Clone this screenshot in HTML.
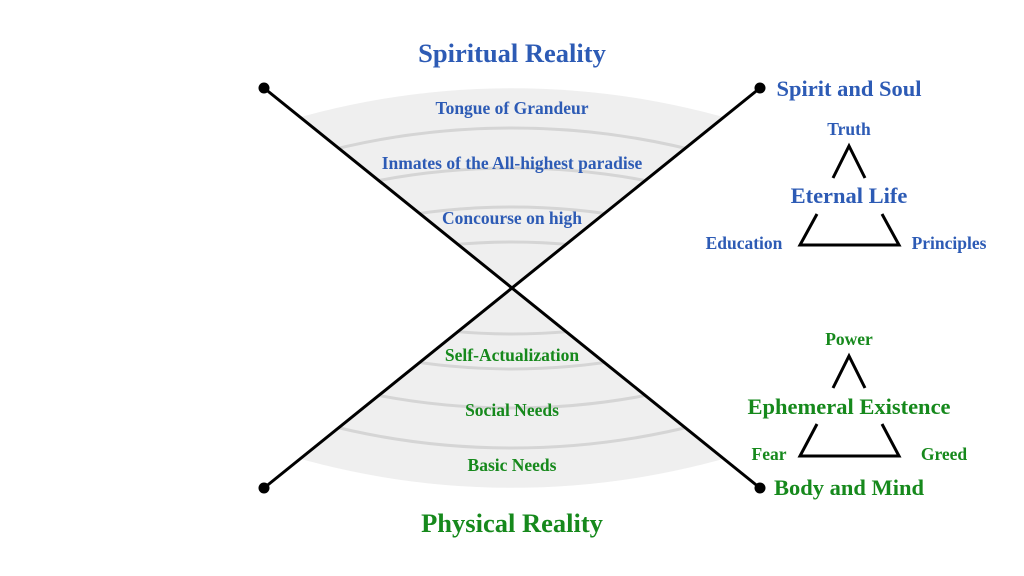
<!DOCTYPE html>
<html><head><style>
html,body{margin:0;padding:0;background:#fff;overflow:hidden;width:1024px;height:576px;}
svg{display:block;}
text{font-family:"Liberation Serif",serif;font-weight:bold;text-anchor:middle;}
.b{fill:#2d5bb5;}
.g{fill:#16891c;}
</style></head><body>
<svg width="1024" height="576" viewBox="0 0 1024 576" xmlns="http://www.w3.org/2000/svg" style="overflow:hidden">
<defs>
<clipPath id="ct"><polygon points="264,88 760,88 512,288"/></clipPath>
<clipPath id="cb"><polygon points="264,488 760,488 512,288"/></clipPath>
</defs>
<g clip-path="url(#ct)">
<path d="M250,133 A789,789 0 0 1 774,133 L512,300 Z" fill="#efefef"/>
<g fill="none" stroke="#d5d5d5" stroke-width="3">
<path d="M250,175.3 A749,749 0 0 1 774,175.3"/>
<path d="M250,218.2 A709,709 0 0 1 774,218.2"/>
<path d="M250,260.4 A670,670 0 0 1 774,260.4"/>
<path d="M250,298.6 A635,635 0 0 1 774,298.6"/>
</g>
</g>
<g clip-path="url(#cb)">
<path d="M250,443 A789,789 0 0 0 774,443 L512,276 Z" fill="#efefef"/>
<g fill="none" stroke="#d5d5d5" stroke-width="3">
<path d="M250,400.7 A749,749 0 0 0 774,400.7"/>
<path d="M250,357.8 A709,709 0 0 0 774,357.8"/>
<path d="M250,315.6 A670,670 0 0 0 774,315.6"/>
<path d="M250,277.4 A635,635 0 0 0 774,277.4"/>
</g>
</g>
<g stroke="#000" stroke-width="3">
<line x1="264" y1="88" x2="760" y2="488"/>
<line x1="760" y1="88" x2="264" y2="488"/>
</g>
<g fill="#000">
<circle cx="264" cy="88" r="5.5"/><circle cx="760" cy="88" r="5.5"/>
<circle cx="264" cy="488" r="5.5"/><circle cx="760" cy="488" r="5.5"/>
</g>
<g fill="none" stroke="#000" stroke-width="3">
<polyline points="833,178 849,146 865,178"/>
<polyline points="817,214 800,245 899,245 882,214"/>
<polyline points="833,388 849,356 865,388"/>
<polyline points="817,424 800,456 899,456 882,424"/>
</g>
<text class="b" x="512" y="62" font-size="26.5">Spiritual Reality</text>
<text class="g" x="512" y="532" font-size="26.5">Physical Reality</text>
<text class="b" x="512" y="114" font-size="17.5">Tongue of Grandeur</text>
<text class="b" x="512" y="169" font-size="17.5">Inmates of the All-highest paradise</text>
<text class="b" x="512" y="224" font-size="17.5">Concourse on high</text>
<text class="g" x="512" y="361" font-size="17.5">Self-Actualization</text>
<text class="g" x="512" y="416" font-size="17.5">Social Needs</text>
<text class="g" x="512" y="471" font-size="17.5">Basic Needs</text>
<text class="b" x="849" y="96" font-size="22.5">Spirit and Soul</text>
<text class="b" x="849" y="135" font-size="17.5">Truth</text>
<text class="b" x="849" y="203" font-size="22.5">Eternal Life</text>
<text class="b" x="744" y="249" font-size="17.5">Education</text>
<text class="b" x="949" y="249" font-size="17.5">Principles</text>
<text class="g" x="849" y="345" font-size="17.5">Power</text>
<text class="g" x="849" y="414" font-size="22.5">Ephemeral Existence</text>
<text class="g" x="769" y="460" font-size="17.5">Fear</text>
<text class="g" x="944" y="460" font-size="17.5">Greed</text>
<text class="g" x="849" y="495" font-size="22.5">Body and Mind</text>
</svg>
</body></html>
